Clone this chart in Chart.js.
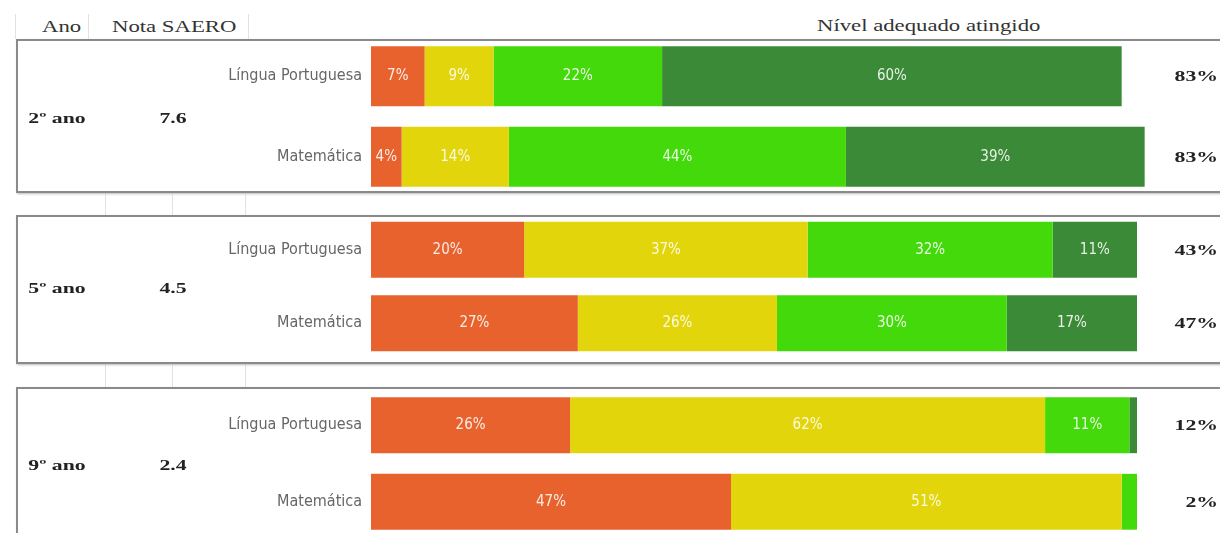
<!DOCTYPE html>
<html>
<head>
<meta charset="utf-8">
<script src="https://cdn.jsdelivr.net/npm/chart.js@4.4.0/dist/chart.umd.min.js"></script>
<style>
  body { margin: 0; background: #fff; width: 1220px; height: 533px; overflow: hidden; position: relative; }
  .box { position: absolute; left: 16px; width: 1230px; border: 2px solid #8a8a8a; box-sizing: border-box; box-shadow: 1px 1px 2px #bbb; }
  .chartWrap { position: absolute; left: 0; width: 1220px; }
  .head { position: absolute; font-family: "Liberation Serif", "DejaVu Serif", serif; font-size: 16px; color: #333; white-space: nowrap; transform: scaleX(1.42); transform-origin: left center; }
  .sep { position: absolute; width: 1px; background: #e2e2e2; }
</style>
</head>
<body>
<div class="head" style="left:42px; top:18px;">Ano</div>
<div class="head" style="left:112px; top:18px;">Nota SAERO</div>
<div class="head" style="left:817px; top:17px;">Nível adequado atingido</div>
<div class="sep" style="left:15px; top:14px; height:25px;"></div>
<div class="sep" style="left:88px; top:14px; height:25px;"></div>
<div class="sep" style="left:248px; top:14px; height:25px;"></div>

<div class="sep" style="left:105px; top:193px; height:22px;"></div>
<div class="sep" style="left:172px; top:193px; height:22px;"></div>
<div class="sep" style="left:245px; top:193px; height:22px;"></div>
<div class="sep" style="left:105px; top:364px; height:23px;"></div>
<div class="sep" style="left:172px; top:364px; height:23px;"></div>
<div class="sep" style="left:245px; top:364px; height:23px;"></div>

<div class="box" style="top:39px; height:154px;"></div>
<div class="box" style="top:215px; height:149px;"></div>
<div class="box" style="top:387px; height:160px;"></div>

<div class="chartWrap" style="top:36px; height:161px;"><canvas id="c0"></canvas></div>
<div class="chartWrap" style="top:213px; height:147px;"><canvas id="c1"></canvas></div>
<div class="chartWrap" style="top:387px; height:153px;"><canvas id="c2"></canvas></div>

<script>
// rows: 2º LP, 2º Mat, 5º LP, 5º Mat, 9º LP, 9º Mat
const subjects = ['Língua Portuguesa', 'Matemática'];
const grades = ['2º ano', '5º ano', '9º ano'];
const notas = ['7.6', '4.5', '2.4'];
const abaixoBasico = [7, 4, 20, 27, 26, 47];
const basico = [9, 14, 37, 26, 62, 51];
const proficiente = [22, 44, 32, 30, 11, 2];
const avancado = [60, 39, 11, 17, 1, 0];
const adequado = [83, 83, 43, 47, 12, 2];

const levelColors = ['#e8622e', '#e2d50c', '#43d90b', '#3b8a37'];
const barThick = [0.745, 0.76, 0.73];
const narrow = '"Liberation Sans Narrow", "DejaVu Sans Condensed", "Roboto Condensed", sans-serif';
const serif = '"Liberation Serif", "DejaVu Serif", serif';

// stretched serif text like the source image
function wideText(ctx, txt, x, y, align) {
  const sx = 1.45;
  const w = ctx.measureText(txt).width * sx;
  let left = x;
  if (align === 'center') left = x - w / 2;
  if (align === 'right') left = x - w;
  ctx.save();
  ctx.textAlign = 'left';
  ctx.translate(left, y);
  ctx.scale(sx, 1);
  ctx.fillText(txt, 0, 0);
  ctx.restore();
}

// bar labels, grade/nota on the left, adequado % on the right
const overlay = {
  id: 'overlay',
  afterDatasetsDraw(chart, args, opts) {
    const ctx = chart.ctx;
    ctx.save();
    ctx.textBaseline = 'middle';
    ctx.textAlign = 'center';
    ctx.font = '15px ' + narrow;
    ctx.fillStyle = 'rgba(255,255,255,0.88)';
    chart.data.datasets.forEach((ds, di) => {
      const meta = chart.getDatasetMeta(di);
      meta.data.forEach((bar, i) => {
        const w = Math.abs(bar.x - bar.base);
        if (w < 24) return;
        ctx.fillText(ds.data[i] + '%', (bar.x + bar.base) / 2, bar.y);
      });
    });
    const g = opts.group;
    const yMid = (chart.chartArea.top + chart.chartArea.bottom) / 2 + 3;
    ctx.fillStyle = '#222';
    ctx.font = 'bold 15px ' + serif;
    wideText(ctx, grades[g], 57, yMid, 'center');
    wideText(ctx, notas[g], 173, yMid, 'center');
    const meta0 = chart.getDatasetMeta(0);
    meta0.data.forEach((bar, i) => {
      wideText(ctx, adequado[g * 2 + i] + '%', 1218, bar.y + 1, 'right');
    });
    ctx.restore();
  }
};

function makeChart(g) {
  const sl = arr => arr.slice(g * 2, g * 2 + 2);
  const series = [abaixoBasico, basico, proficiente, avancado];
  new Chart(document.getElementById('c' + g), {
    type: 'bar',
    data: {
      labels: subjects,
      datasets: series.map((s, k) => ({
        data: sl(s),
        backgroundColor: levelColors[k],
        borderWidth: 0,
        barPercentage: barThick[g],
        categoryPercentage: 1,
        clip: false
      }))
    },
    options: {
      indexAxis: 'y',
      responsive: true,
      maintainAspectRatio: false,
      animation: false,
      layout: { padding: { left: 0, right: 83, top: 0, bottom: 0 } },
      plugins: {
        legend: { display: false },
        tooltip: { enabled: false },
        overlay: { group: g }
      },
      scales: {
        x: { stacked: true, min: 0, max: 100, display: false },
        y: {
          stacked: true,
          grid: { display: false, drawTicks: false },
          border: { display: false },
          ticks: {
            color: '#666',
            padding: 9,
            font: { family: narrow, size: 16 }
          },
          afterFit: s => {
            s.width = 371;
            s.paddingTop = 0;
            s.paddingBottom = 0;
          }
        }
      }
    },
    plugins: [overlay]
  });
}

[0, 1, 2].forEach(makeChart);
</script>
</body>
</html>
